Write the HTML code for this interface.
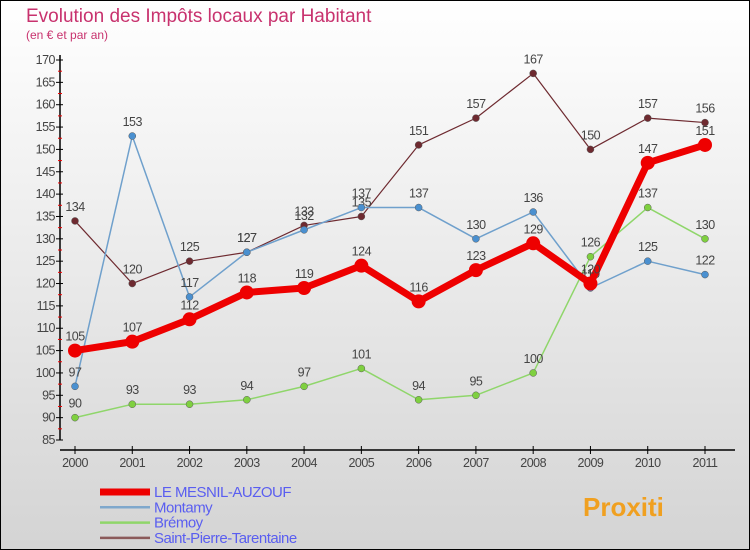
<!DOCTYPE html>
<html><head><meta charset="utf-8"><style>
body{margin:0}
#c{width:750px;height:550px;position:relative;box-sizing:border-box;border:1px solid #000;background:linear-gradient(#ffffff,#d4d4d4);font-family:"Liberation Sans",sans-serif;overflow:hidden}
</style></head><body>
<div id="c">
<svg id="s" width="750" height="550" style="position:absolute;left:-1px;top:-1px">
<text x="26" y="22" font-size="19" fill="#c8326e">Evolution des Impôts locaux par Habitant</text>
<text x="26" y="39" font-size="12" fill="#c8326e">(en € et par an)</text>
<g id="g"></g>
</svg>
</div>
<script>
const years=["2000","2001","2002","2003","2004","2005","2006","2007","2008","2009","2010","2011"];
const mesnil=[105,107,112,118,119,124,116,123,129,120,147,151];
const montamy=[97,153,117,127,132,137,137,130,136,119,125,122];
const bremoy=[90,93,93,94,97,101,94,95,100,126,137,130];
const stpierre=[134,120,125,127,133,135,151,157,167,150,157,156];
const yTicks=[85,90,95,100,105,110,115,120,125,130,135,140,145,150,155,160,165,170];
const names=["LE MESNIL-AUZOUF","Montamy","Brémoy","Saint-Pierre-Tarentaine"];
const NS="http://www.w3.org/2000/svg";
const g=document.getElementById('g');
function X(i){return 75+i*(705-75)/11;}
function Y(v){return 440-(v-85)*(380/85);}
function el(t,a,p){const e=document.createElementNS(NS,t);for(const k in a)e.setAttribute(k,a[k]);(p||g).appendChild(e);return e;}
let a=el('line',{x1:60,y1:55,x2:60,y2:440,stroke:'#000','stroke-width':1.5});


a=el('line',{x1:60,y1:450,x2:735,y2:450,stroke:'#000','stroke-width':1.5});


yTicks.forEach((v,i)=>{
  el('line',{x1:56,y1:Y(v),x2:63,y2:Y(v),stroke:'#000'});
  if(i<yTicks.length-1){el('line',{x1:58,y1:Y(v+2.5),x2:62,y2:Y(v+2.5),stroke:'#e00'});}
  const t=el('text',{x:55,y:Y(v)+4,'font-size':12.5,fill:'#444','text-anchor':'end','letter-spacing':'-0.5'});
  t.textContent=v;
  
  
});
years.forEach((y,i)=>{
  el('line',{x1:X(i),y1:446,x2:X(i),y2:454,stroke:'#000'});
  const t=el('text',{x:X(i),y:467,'font-size':12.5,fill:'#444','text-anchor':'middle','letter-spacing':'-0.5'});
  t.textContent=y;
  
  
});
const series=[
 {d:stpierre,c:'#6e2a30',w:1.2,r:3.5,n:'series-saint-pierre'},
 {d:bremoy,c:'#8fd66a',w:1.5,r:3.5,fill:'#7fd040',n:'series-bremoy'},
 {d:montamy,c:'#6fa0cc',w:1.5,r:3.5,fill:'#4a90d0',n:'series-montamy'},
 {d:mesnil,c:'#ee0000',w:7,r:7,n:'series-mesnil'}
];
series.forEach(s=>{
  const p=el('polyline',{points:s.d.map((v,i)=>X(i)+','+Y(v)).join(' '),fill:'none',stroke:s.c,'stroke-width':s.w,'stroke-linejoin':'round'});
  
  
  s.d.forEach((v,i)=>{
    const c=el('circle',{cx:X(i),cy:Y(v),r:s.r,fill:s.fill||s.c,stroke:s.w>5?'none':'#5a5a5a','stroke-width':0.5});
    
    
    const t=el('text',{x:X(i),y:Y(v)-10,'font-size':12.5,fill:'#444','text-anchor':'middle','letter-spacing':'-0.5'});
    t.textContent=v;
    
    
  });
});
const lc=['#ee0000','#7fa8cc','#8fd66a','#8a5a5a'],lw=[7,2.5,2.5,2.5];
names.forEach((n,i)=>{
  const y=492+i*15.3;
  const l=el('line',{x1:100,y1:y,x2:150,y2:y,stroke:lc[i],'stroke-width':lw[i]});
  
  
  const t=el('text',{x:154,y:y+5,'font-size':15,fill:'#5a5ef0','letter-spacing':'-0.5'});
  t.textContent=n;
  
  
});
const lg=el('text',{x:583,y:516,'font-size':26,'font-weight':'bold',fill:'#f0a020'});
lg.textContent='Proxiti';


</script>
</body></html>
